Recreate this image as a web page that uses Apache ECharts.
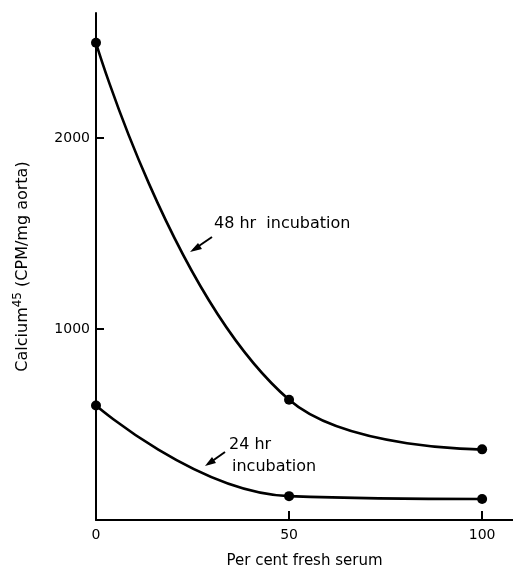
<!DOCTYPE html>
<html>
<head>
<meta charset="utf-8">
<script src="https://cdn.jsdelivr.net/npm/echarts@6/dist/echarts.min.js"></script>
<style>
  html, body { margin: 0; padding: 0; background: #fff; }
  #chart { width: 513px; height: 574px; }
</style>
</head>
<body>
<div id="chart"></div>
<script>
// per cent fresh serum
const serum = [0, 50, 100];
// Calcium-45 CPM / mg aorta
const incub48 = [2500, 630, 370];
const incub24 = [600, 125, 110];
const xTicks = [0, 50, 100];
const yTicks = [1000, 2000];

const chart = echarts.init(document.getElementById('chart'));
const font = 'DejaVu Sans';

const lineSeries = (name, values) => ({
  name,
  type: 'line',
  smooth: 0.45,
  symbol: 'circle',
  symbolSize: 10,
  itemStyle: { color: '#000' },
  lineStyle: { color: '#000', width: 2.6 },
  data: serum.map((x, i) => [x, values[i]]),
});

chart.setOption({
  animation: false,
  backgroundColor: '#fff',
  grid: { left: 96, right: 0, top: 13, bottom: 51 },
  xAxis: {
    type: 'value',
    min: 0,
    max: 108,
    name: 'Per cent fresh serum',
    nameLocation: 'middle',
    nameGap: 34,
    nameTextStyle: { color: '#000', fontFamily: font, fontSize: 15 },
    axisLine: { lineStyle: { color: '#000', width: 2 } },
    axisTick: { inside: true, length: 9, customValues: [50, 100], lineStyle: { color: '#000', width: 2 } },
    axisLabel: { customValues: xTicks, color: '#000', fontFamily: font, fontSize: 14, margin: 8, formatter: (v) => String(v) },
    splitLine: { show: false },
  },
  yAxis: {
    type: 'value',
    min: 0,
    max: 2656,
    name: '{a|Calcium}{s|45}{a| (CPM/mg aorta)}',
    nameLocation: 'middle',
    nameGap: 62,
    nameTextStyle: {
      rich: {
        a: { color: '#000', fontFamily: font, fontSize: 16 },
        s: { color: '#000', fontFamily: font, fontSize: 12, verticalAlign: 'bottom', padding: [0, 0, 10, 0] },
      },
    },
    axisLine: { show: true, lineStyle: { color: '#000', width: 2 } },
    axisTick: { show: true, inside: true, length: 8, customValues: yTicks, lineStyle: { color: '#000', width: 2 } },
    axisLabel: { customValues: yTicks, color: '#000', fontFamily: font, fontSize: 14, margin: 6, formatter: (v) => String(v) },
    splitLine: { show: false },
  },
  series: [lineSeries('48 hr incubation', incub48), lineSeries('24 hr incubation', incub24)],
  graphic: [
    { type: 'text', left: 214, top: 216, style: { text: '48 hr  incubation', fill: '#000', font: '16px ' + font } },
    { type: 'line', shape: { x1: 212, y1: 237, x2: 193, y2: 250 }, style: { stroke: '#000', lineWidth: 2 } },
    { type: 'polygon', shape: { points: [[190, 252], [198, 243], [202, 249]] }, style: { fill: '#000' } },
    { type: 'text', left: 229, top: 437, style: { text: '24 hr', fill: '#000', font: '16px ' + font } },
    { type: 'text', left: 232, top: 459, style: { text: 'incubation', fill: '#000', font: '16px ' + font } },
    { type: 'line', shape: { x1: 225, y1: 452, x2: 208, y2: 464 }, style: { stroke: '#000', lineWidth: 2 } },
    { type: 'polygon', shape: { points: [[205, 466], [212, 457], [216, 463]] }, style: { fill: '#000' } },
  ],
});
</script>
</body>
</html>
